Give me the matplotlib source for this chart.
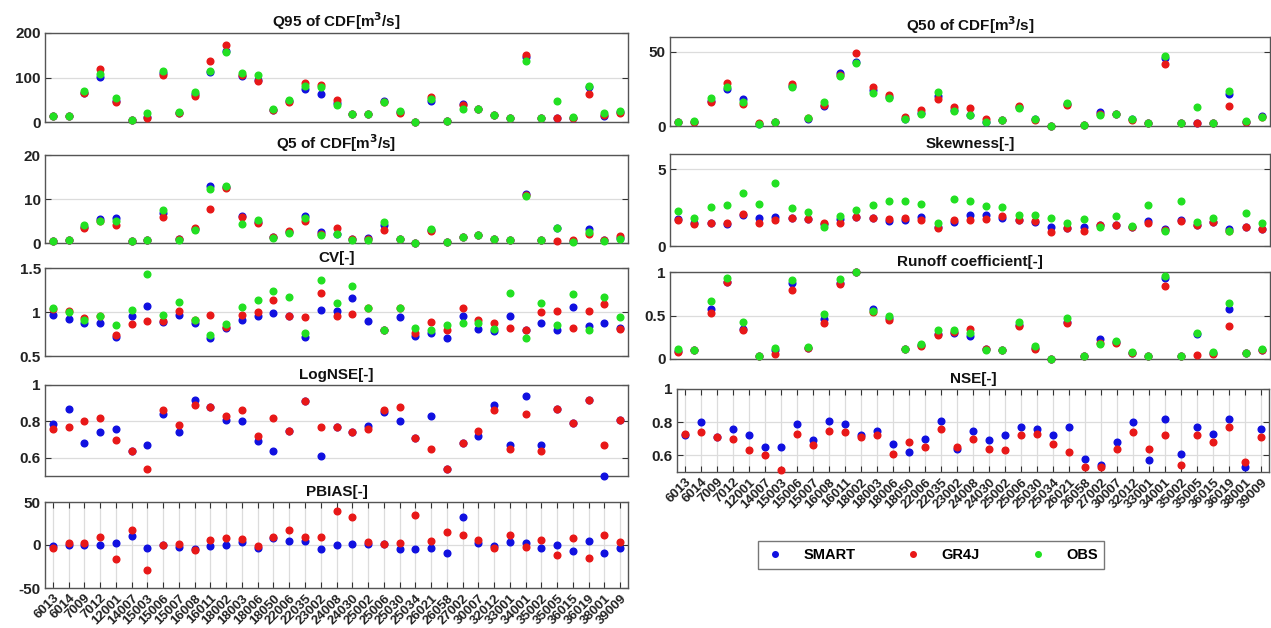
import matplotlib
matplotlib.use('Agg')
from matplotlib import pyplot as plt

plt.rcParams['font.family'] = ['Liberation Sans', 'DejaVu Sans']
plt.rcParams['font.weight'] = 'bold'

stations = ['6013', '6014', '7009', '7012', '12001', '14007', '15003', '15006', '15007', '16008',
            '16011', '18002', '18003', '18006', '18050', '22006', '22035', '23002', '24008', '24030',
            '25002', '25006', '25030', '25034', '26021', '26058', '27002', '30007', '32012', '33001',
            '34001', '35002', '35005', '36015', '36019', '38001', '39009']

# Q95 of CDF
q95_smart = [13, 13, 65, 102, 48, 5, 12, 110, 21, 62, 112, 160, 103, 95, 27, 47, 74, 64, 42, 18,
             17, 48, 22, 0, 47, 3, 40, 29, 15, 8, 145, 10, 10, 8, 78, 13, 22]
q95_gr4j = [13, 13, 66, 118, 44, 5, 10, 106, 20, 58, 136, 173, 106, 92, 28, 46, 88, 83, 49, 18,
            17, 46, 20, 0, 57, 3, 38, 29, 15, 8, 150, 10, 10, 8, 62, 15, 21]
q95_obs = [14, 13, 70, 107, 55, 5, 20, 115, 23, 68, 114, 158, 110, 105, 29, 50, 80, 78, 39, 18,
           17, 45, 25, 0, 52, 3, 30, 29, 15, 8, 138, 10, 48, 12, 82, 20, 25]

# Q5 of CDF
q5_smart = [0.5, 0.6, 3.6, 5.5, 5.7, 0.4, 0.6, 6.8, 1.0, 3.2, 13.0, 12.8, 6.2, 4.8, 1.4, 2.6, 6.2, 2.5,
            2.0, 0.8, 1.2, 4.0, 1.0, 0.1, 3.0, 0.3, 1.4, 1.8, 1.0, 0.6, 11.1, 0.7, 3.5, 0.5, 3.1, 0.7, 1.2]
q5_gr4j = [0.5, 0.6, 3.3, 5.0, 4.0, 0.4, 0.6, 5.8, 1.0, 3.4, 7.8, 12.4, 5.8, 4.5, 1.3, 2.8, 4.9, 2.0,
           3.3, 1.0, 0.8, 3.0, 1.0, 0.1, 2.7, 0.3, 1.4, 1.8, 1.0, 0.6, 11.0, 0.7, 0.4, 0.7, 2.0, 0.7, 1.6]
q5_obs = [0.5, 0.6, 4.2, 5.0, 5.0, 0.4, 0.6, 7.4, 0.6, 2.9, 12.2, 13.0, 4.3, 5.3, 1.2, 2.3, 5.7, 1.8,
          2.0, 0.6, 0.6, 4.8, 1.0, 0.1, 3.2, 0.3, 1.4, 1.8, 1.0, 0.6, 10.6, 0.7, 3.3, 0.3, 2.6, 0.4, 1.0]

# CV
cv_smart = [0.97, 0.92, 0.87, 0.87, 0.72, 0.95, 1.07, 0.89, 0.97, 0.87, 0.71, 0.82, 0.91, 0.96, 0.99,
            0.96, 0.72, 1.02, 1.01, 1.16, 0.90, 0.80, 0.94, 0.73, 0.76, 0.71, 0.95, 0.81, 0.78, 0.95,
            0.80, 0.87, 0.80, 1.06, 0.84, 0.87, 0.82]
cv_gr4j = [1.03, 1.01, 0.93, 0.96, 0.74, 0.86, 0.90, 0.90, 1.01, 0.91, 0.97, 0.83, 0.97, 1.00, 1.14,
           0.95, 0.94, 1.22, 0.96, 0.98, 1.05, 0.80, 1.05, 0.76, 0.89, 0.79, 1.05, 0.91, 0.88, 0.82,
           0.80, 1.00, 1.01, 0.82, 1.01, 1.09, 0.81]
cv_obs = [1.04, 1.00, 0.91, 0.96, 0.85, 1.02, 1.43, 0.97, 1.11, 0.91, 0.74, 0.86, 1.06, 1.14, 1.24,
          1.17, 0.76, 1.36, 1.10, 1.29, 1.05, 0.80, 1.05, 0.82, 0.80, 0.85, 0.87, 0.88, 0.81, 1.22,
          0.70, 1.10, 0.85, 1.20, 0.80, 1.17, 0.94]

# LogNSE
lognse_smart = [0.785, 0.87, 0.68, 0.74, 0.76, 0.64, 0.67, 0.84, 0.74, 0.92, 0.88, 0.81, 0.80, 0.69,
                0.64, 0.75, 0.91, 0.61, 0.77, 0.74, 0.775, 0.85, 0.80, 0.71, 0.83, 0.54, 0.68, 0.72,
                0.89, 0.67, 0.94, 0.67, 0.87, 0.79, 0.92, 0.50, 0.81]
lognse_gr4j = [0.76, 0.77, 0.80, 0.82, 0.70, 0.64, 0.54, 0.86, 0.78, 0.89, 0.88, 0.83, 0.86, 0.72,
               0.82, 0.75, 0.91, 0.77, 0.77, 0.74, 0.76, 0.86, 0.88, 0.71, 0.65, 0.54, 0.68, 0.75,
               0.86, 0.65, 0.84, 0.64, 0.87, 0.79, 0.92, 0.67, 0.81]

# PBIAS
pbias_smart = [-1, 0, 0, 0, 2, 10, -3, 0, -2, -5, -1, 0, 3, -4, 8, 5, 5, -5, 0, 1,
               1, 1, -5, -5, -3, -9, 33, 2, -1, 3, 2, -4, 0, -7, 5, -9, -4]
pbias_gr4j = [-3, 2, 2, 9, -16, 18, -29, 0, 1, -6, 6, 8, 7, -1, 9, 17, 9, 9, 40, 32,
              4, 1, 2, 35, 5, 15, 12, 6, -4, 12, -2, 6, -12, 8, -15, 12, 3]

# Q50 of CDF
q50_smart = [2.5, 3, 17, 25, 18, 1.5, 2.5, 27, 5, 13.7, 35.9, 43, 24.2, 19.5, 5, 9, 20, 11, 7.4, 3,
             4, 13, 4.5, 0.2, 15, 0.7, 9.2, 8, 4.5, 2, 46, 2.2, 2, 2, 21.3, 3, 6.5]
q50_gr4j = [2.5, 3, 16, 28.7, 14.6, 2, 2.5, 28, 5.2, 14, 34.5, 49.5, 26.5, 20.6, 5.8, 10.8, 18.4,
            12.6, 11.9, 4.5, 4, 13.7, 4, 0.2, 13.9, 0.7, 8, 8, 4, 2, 42, 2.2, 2, 2, 13.2, 3, 6.3]
q50_obs = [2.7, 3.3, 19, 26.5, 16, 1.1, 2.7, 26, 5.2, 16.4, 33.6, 42.6, 22, 19, 4.7, 7.8, 22.6,
           10.3, 7.4, 2.7, 4, 12.3, 4.7, 0.2, 15.7, 0.7, 7.2, 8.1, 4.7, 1.8, 47.3, 2.2, 12.6, 1.8,
           23.8, 3.3, 6.3]

# Skewness
skew_smart = [1.78, 1.48, 1.52, 1.42, 2.05, 1.83, 1.87, 1.8, 1.75, 1.42, 1.74, 1.87, 1.85, 1.66, 1.7,
              1.87, 1.26, 1.57, 2.02, 2.02, 1.85, 1.7, 1.59, 1.22, 1.15, 1.22, 1.37, 1.40, 1.22, 1.65,
              1.1, 1.68, 1.37, 1.54, 1.1, 1.22, 1.12]
skew_gr4j = [1.7, 1.43, 1.5, 1.48, 2.07, 1.48, 1.7, 1.8, 1.78, 1.48, 1.48, 1.87, 1.83, 1.75, 1.8,
             1.7, 1.2, 1.7, 1.7, 1.74, 1.98, 1.7, 1.65, 0.93, 1.2, 0.98, 1.37, 1.37, 1.25, 1.48,
             1.05, 1.65, 1.37, 1.54, 1.0, 1.26, 1.09]
skew_obs = [2.28, 1.8, 2.52, 2.65, 3.48, 2.74, 4.13, 2.48, 2.2, 1.22, 1.96, 2.35, 2.65, 2.91, 2.91,
            2.76, 1.52, 3.04, 2.96, 2.61, 2.52, 2.02, 2.02, 1.85, 1.48, 1.74, 1.22, 1.98, 1.3, 2.65,
            1.0, 2.96, 1.59, 1.8, 0.98, 2.17, 1.52]

# Runoff coefficient
rc_smart = [0.09, 0.10, 0.57, 0.89, 0.34, 0.04, 0.10, 0.87, 0.13, 0.46, 0.87, 1.0, 0.57, 0.47, 0.11,
            0.16, 0.29, 0.30, 0.27, 0.11, 0.10, 0.39, 0.13, 0.0, 0.42, 0.03, 0.23, 0.19, 0.07, 0.035,
            0.93, 0.04, 0.29, 0.07, 0.58, 0.065, 0.10]
rc_gr4j = [0.08, 0.10, 0.53, 0.88, 0.33, 0.04, 0.06, 0.79, 0.13, 0.41, 0.86, 1.0, 0.54, 0.45, 0.11,
           0.15, 0.28, 0.31, 0.35, 0.11, 0.10, 0.38, 0.12, 0.0, 0.41, 0.03, 0.18, 0.18, 0.07, 0.035,
           0.84, 0.04, 0.05, 0.06, 0.38, 0.065, 0.10]
rc_obs = [0.11, 0.10, 0.67, 0.93, 0.43, 0.04, 0.13, 0.91, 0.14, 0.52, 0.92, 1.0, 0.55, 0.50, 0.12,
          0.17, 0.33, 0.33, 0.30, 0.10, 0.10, 0.42, 0.15, 0.0, 0.47, 0.03, 0.17, 0.21, 0.08, 0.035,
          0.95, 0.04, 0.30, 0.08, 0.64, 0.065, 0.115]

# NSE
nse_smart = [0.72, 0.80, 0.71, 0.76, 0.72, 0.65, 0.65, 0.79, 0.69, 0.81, 0.79, 0.72, 0.75, 0.67, 0.62,
             0.70, 0.81, 0.64, 0.75, 0.69, 0.72, 0.77, 0.76, 0.72, 0.77, 0.58, 0.54, 0.68, 0.80, 0.57,
             0.82, 0.61, 0.77, 0.73, 0.82, 0.53, 0.76]
nse_gr4j = [0.73, 0.74, 0.71, 0.70, 0.63, 0.60, 0.51, 0.73, 0.66, 0.75, 0.74, 0.71, 0.72, 0.61, 0.68,
            0.65, 0.76, 0.65, 0.70, 0.64, 0.63, 0.72, 0.73, 0.67, 0.62, 0.53, 0.53, 0.64, 0.74, 0.64,
            0.72, 0.54, 0.72, 0.68, 0.77, 0.56, 0.71]

col_smart = '#1010e0'
col_gr4j = '#e81818'
col_obs = '#22e022'
edge = '#333333'

W, H = 1271, 628
fig = plt.figure(figsize=(W / 100, H / 100), dpi=100)


def panel(x0, x1, top, bottom, title, ylim, yticks, yticklabels, series, xlabels=False):
    ax = fig.add_axes([x0 / W, 1 - bottom / H, (x1 - x0) / W, (bottom - top) / H])
    x = list(range(len(stations)))
    for vals, clr in series:
        ax.plot(x, vals, 'o', ms=4.8, color=clr, mec=clr, clip_on=False, zorder=3)
    ax.set_xlim(-0.5, len(stations) - 0.5)
    ax.set_ylim(*ylim)
    ax.set_yticks(yticks)
    ax.set_yticklabels(yticklabels)
    ax.set_xticks(x)
    ax.grid(axis='y', color='#dcdcdc', linewidth=0.9)
    if xlabels:
        ax.grid(axis='x', color='#dcdcdc', linewidth=0.9)
        ax.set_xticklabels(stations, rotation=45, ha='right', rotation_mode='anchor',
                           fontsize=9.5, fontweight='bold', color='#222222')
        ax.tick_params(axis='x', direction='in', length=4, top=True, pad=3, color=edge)
    else:
        ax.set_xticklabels([])
        ax.tick_params(axis='x', length=0)
    ax.tick_params(axis='y', direction='in', length=4, right=True, labelsize=11,
                   labelcolor='#222222', color=edge, pad=3)
    for lab in ax.get_yticklabels():
        lab.set_fontweight('bold')
    for s in ax.spines.values():
        s.set_color('#555555')
        s.set_linewidth(1.0)
    ax.set_axisbelow(True)
    ax.set_title(title, fontsize=11, fontweight='bold', pad=4, color='#111111')
    return ax


three = lambda s, g, o: [(s, col_smart), (g, col_gr4j), (o, col_obs)]

# left column
panel(45, 628, 33, 122, 'Q95 of CDF[m$^3$/s]', (0, 200), [0, 100, 200], ['0', '100', '200'],
      three(q95_smart, q95_gr4j, q95_obs))
panel(45, 628, 155, 243, 'Q5 of CDF[m$^3$/s]', (0, 20), [0, 10, 20], ['0', '10', '20'],
      three(q5_smart, q5_gr4j, q5_obs))
panel(45, 628, 268, 356, 'CV[-]', (0.5, 1.5), [0.5, 1, 1.5], ['0.5', '1', '1.5'],
      three(cv_smart, cv_gr4j, cv_obs))
panel(45, 628, 385, 476, 'LogNSE[-]', (0.5, 1), [0.6, 0.8, 1], ['0.6', '0.8', '1'],
      [(lognse_smart, col_smart), (lognse_gr4j, col_gr4j)])
panel(45, 628, 502, 588, 'PBIAS[-]', (-50, 50), [-50, 0, 50], ['-50', '0', '50'],
      [(pbias_smart, col_smart), (pbias_gr4j, col_gr4j)], xlabels=True)

# right column
panel(670, 1270, 37, 126, 'Q50 of CDF[m$^3$/s]', (0, 60), [0, 50], ['0', '50'],
      three(q50_smart, q50_gr4j, q50_obs))
panel(670, 1270, 154, 246, 'Skewness[-]', (0, 6), [0, 5], ['0', '5'],
      three(skew_smart, skew_gr4j, skew_obs))
panel(670, 1270, 272, 359, 'Runoff coefficient[-]', (0, 1), [0, 0.5, 1], ['0', '0.5', '1'],
      three(rc_smart, rc_gr4j, rc_obs))
panel(677, 1269, 389, 472, 'NSE[-]', (0.5, 1), [0.6, 0.8, 1], ['0.6', '0.8', '1'],
      [(nse_smart, col_smart), (nse_gr4j, col_gr4j)], xlabels=True)

handles = [plt.Line2D([], [], ls='none', marker='o', ms=4, color=c) for c in (col_smart, col_gr4j, col_obs)]
leg = fig.legend(handles, ['SMART', 'GR4J', 'OBS'], loc='center', ncol=3,
                 bbox_to_anchor=(931 / W, 1 - 555 / H), frameon=True, fancybox=False,
                 prop={'weight': 'bold', 'size': 10.5}, columnspacing=3.2, handletextpad=1.2,
                 borderpad=0.45, handlelength=1.5)
leg.get_frame().set_edgecolor('#555555')
leg.get_frame().set_linewidth(1.0)

fig.savefig('out.png', dpi=100)
